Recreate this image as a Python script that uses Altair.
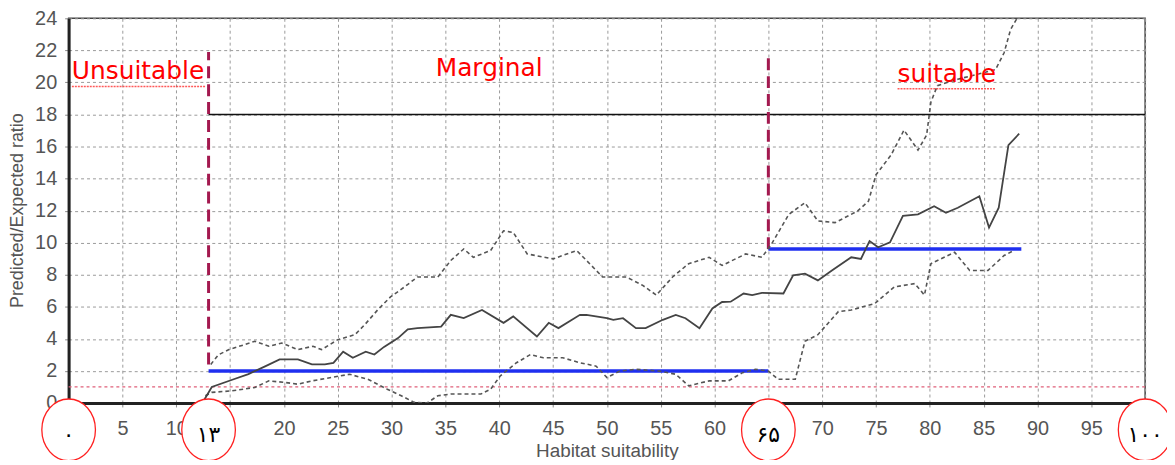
import altair as alt
import pandas as pd

# ---- data ----
mean_x = [12.6, 13.3, 15.2, 16.7, 18.3, 19.6, 21.3, 22.6, 23.8, 24.6, 25.5, 26.4, 27.6, 28.4, 29.3,
          30.6, 31.5, 32.4, 34.6, 35.5, 36.7, 38.4, 40.4, 41.3, 43.5, 44.6, 45.5, 47.5, 48.1, 50.0,
          50.6, 51.5, 52.7, 53.6, 55.2, 56.4, 57.3, 58.6, 59.8, 60.7, 61.5, 62.7, 63.5, 64.4, 66.4,
          67.3, 68.4, 69.6, 70.9, 72.7, 73.6, 74.4, 75.2, 76.3, 77.5, 78.9, 80.4, 81.5, 82.6, 84.6,
          85.5, 86.4, 87.3, 88.3]
mean_y = [0.2, 1.0, 1.45, 1.8, 2.3, 2.72, 2.72, 2.41, 2.41, 2.5, 3.2, 2.82, 3.2, 3.02, 3.5,
          4.05, 4.6, 4.67, 4.77, 5.5, 5.3, 5.8, 5.0, 5.4, 4.15, 5.0, 4.67, 5.5, 5.49, 5.29,
          5.19, 5.29, 4.67, 4.67, 5.19, 5.49, 5.29, 4.67, 5.9, 6.3, 6.32, 6.83, 6.73, 6.87, 6.83,
          7.96, 8.07, 7.65, 8.27, 9.09, 8.99, 10.1, 9.71, 10.02, 11.67, 11.77, 12.28, 11.87, 12.18, 12.9,
          10.94, 12.18, 16.09, 16.8]

upper_x = [13.2, 13.9, 14.9, 17.3, 18.6, 19.8, 21.3, 22.7, 23.5, 25.0, 26.6, 27.5, 28.7, 29.9,
           31.2, 32.4, 34.3, 35.5, 36.7, 37.6, 39.2, 40.4, 41.3, 42.6, 45.0, 47.2, 48.4, 49.6,
           51.8, 53.3, 54.6, 56.1, 57.6, 59.5, 60.7, 62.9, 64.4, 65.3, 66.9, 68.4, 69.6, 71.2,
           73.3, 74.3, 75.0, 76.4, 77.6, 78.9, 79.7, 80.1, 80.7, 82.6, 86.1, 86.9, 87.5, 88.1]
upper_y = [2.4, 3.0, 3.33, 3.85, 3.54, 3.74, 3.33, 3.54, 3.33, 3.95, 4.26, 4.88, 5.8, 6.62,
           7.24, 7.86, 7.86, 8.89, 9.61, 9.09, 9.51, 10.74, 10.64, 9.3, 8.99, 9.51, 8.69, 7.86,
           7.86, 7.35, 6.73, 7.86, 8.69, 9.09, 8.58, 9.3, 9.09, 9.92, 11.77, 12.49, 11.36, 11.25,
           11.98, 12.59, 14.24, 15.47, 17.02, 15.78, 16.71, 18.77, 19.8, 20.2, 20.8, 21.85, 23.3, 24.0]

lower_x = [12.7, 13.3, 15.2, 17.3, 18.6, 20.1, 21.3, 22.6, 24.4, 26.1, 27.8, 29.6, 30.9, 32.1,
           33.3, 34.3, 35.5, 38.3, 39.2, 40.1, 41.6, 42.9, 44.1, 45.9, 47.5, 49.0, 50.0, 51.2,
           52.7, 54.9, 56.4, 57.6, 59.5, 61.3, 62.6, 63.8, 65.0, 65.9, 67.5, 68.4, 69.6, 71.5,
           72.7, 74.9, 76.7, 78.6, 79.5, 80.1, 82.3, 83.7, 85.4, 86.9, 87.8]
lower_y = [0.45, 0.66, 0.76, 0.97, 1.38, 1.28, 1.17, 1.38, 1.59, 1.79, 1.48, 0.86, 0.45, 0.04,
           0.0, 0.45, 0.56, 0.56, 0.86, 1.69, 2.51, 3.02, 2.82, 2.82, 2.51, 2.3, 1.59, 1.99,
           2.1, 1.99, 1.79, 1.07, 1.38, 1.38, 1.89, 2.1, 1.99, 1.48, 1.48, 3.85, 4.26, 5.7,
           5.8, 6.21, 7.24, 7.45, 6.73, 8.69, 9.4, 8.27, 8.27, 9.2, 9.51]

# class thresholds (vertical dashed cut lines)
cut_x = [13, 65]
cut_top = [21.9, 21.8]
cut_bottom = [2.4, 9.6]

# class mean ratios (blue lines)
class_start = [13, 65]
class_end = [65, 88.5]
class_ratio = [2.0, 9.6]

# reference lines
ref_start = [13, 0]
ref_end = [100, 100]
ref_value = [18, 1]

# region labels
region_names = ["Unsuitable", "Marginal", "suitable"]
region_x = [0.3, 34.1, 77.0]
region_y = [20.2, 20.4, 20.05]
underline_start = [0.3, 77.0]
underline_end = [12.7, 86.1]
underline_y = [19.75, 19.6]

x_ticks = list(range(0, 101, 5))
y_ticks = list(range(0, 25, 2))
persian_x = [0, 13, 65, 100]
persian_labels = ["۰", "۱۳", "۶۵", "۱۰۰"]

# ---- tables ----
mean_df = pd.DataFrame({"x": mean_x, "y": mean_y})
upper_df = pd.DataFrame({"x": upper_x, "y": upper_y})
lower_df = pd.DataFrame({"x": lower_x, "y": lower_y})
cut_df = pd.DataFrame({"x": cut_x, "y": cut_bottom, "y2": cut_top})
class_df = pd.DataFrame({"x": class_start, "x2": class_end, "y": class_ratio})
black_df = pd.DataFrame({"x": ref_start[:1], "x2": ref_end[:1], "y": ref_value[:1]})
pink_df = pd.DataFrame({"x": ref_start[1:], "x2": ref_end[1:], "y": ref_value[1:]})
region_df = pd.DataFrame({"x": region_x, "y": region_y, "t": region_names})
under_df = pd.DataFrame({"x": underline_start, "x2": underline_end, "y": underline_y})
persian_df = pd.DataFrame({"x": persian_x, "t": persian_labels})

xs = alt.Scale(domain=[0, 100], nice=False, zero=False)
ys = alt.Scale(domain=[0, 24], nice=False)

x_axis = alt.Axis(
    values=x_ticks,
    labelExpr="(datum.value==0||datum.value==15||datum.value==65||datum.value==100)?'':datum.label",
    grid=True, gridDash=[3, 3], gridColor="#9a9a9a", gridWidth=1,
    domainColor="#222", domainWidth=3, tickColor="#888", tickSize=4,
    labelPadding=12, labelFont="Liberation Sans", labelFontSize=20, labelColor="#555",
    labelFlush=False, labelOverlap=False,
    title="Habitat suitability", titleFont="Liberation Sans", titleFontSize=19,
    titleFontWeight="normal", titleColor="#555", titleY=54, titleBaseline="alphabetic",
)
y_axis = alt.Axis(
    values=y_ticks,
    grid=True, gridDash=[3, 3], gridColor="#9a9a9a", gridWidth=1,
    domainColor="#222", domainWidth=3, tickColor="#888", tickSize=4,
    labelPadding=8, labelFont="Liberation Sans", labelFontSize=20, labelColor="#555",
    labelFlush=False, labelOverlap=False,
    title="Predicted/Expected ratio", titleFont="Liberation Sans", titleFontSize=18,
    titleFontWeight="normal", titleColor="#555", titleX=-51, titleY=193, titleAngle=270,
    titleAlign="center", titleBaseline="middle",
)

X = lambda: alt.X("x:Q", scale=xs, axis=x_axis)
Y = lambda: alt.Y("y:Q", scale=ys, axis=y_axis)

pink = alt.Chart(pink_df).mark_rule(color="#e0607a", strokeWidth=1.2, strokeDash=[3, 3]).encode(
    x=X(), x2="x2:Q", y=Y())
black = alt.Chart(black_df).mark_rule(color="#111", strokeWidth=1.5).encode(
    x=X(), x2="x2:Q", y=Y())
blue = alt.Chart(class_df).mark_rule(color="#1f2ff0", strokeWidth=3.5).encode(
    x=X(), x2="x2:Q", y=Y())
cuts = alt.Chart(cut_df).mark_rule(color="#a3194f", strokeWidth=3, strokeDash=[12, 6]).encode(
    x=X(), y=Y(), y2="y2:Q")

def curve(df, dash):
    kw = dict(color="#444", strokeWidth=1.8, clip=True)
    if dash:
        kw["strokeDash"] = [4, 3]
        kw["color"] = "#555"
        kw["strokeWidth"] = 1.6
    return alt.Chart(df).mark_line(**kw).encode(x=X(), y=Y())

mean_line = curve(mean_df, False)
upper_line = curve(upper_df, True)
lower_line = curve(lower_df, True)

regions = alt.Chart(region_df).mark_text(
    font="DejaVu Sans", fontSize=25, color="#ff0000", align="left", baseline="alphabetic"
).encode(x=X(), y=Y(), text="t:N")

underline = alt.Chart(under_df).mark_rule(color="#ff3030", strokeWidth=1.5, strokeDash=[2, 1], opacity=0.8).encode(
    x=X(), x2="x2:Q", y=Y())

ellipse_path = "M -0.87 0 A 0.87 1 0 1 1 0.87 0 A 0.87 1 0 1 1 -0.87 0 Z"
ellipses = alt.Chart(persian_df).mark_point(
    shape=ellipse_path, size=3844, filled=True, fill="white", stroke="#ff2020",
    strokeWidth=1.3, opacity=1, fillOpacity=1, strokeOpacity=1
).encode(x=X(), y=alt.value(414))

persian = alt.Chart(persian_df).mark_text(
    font="DejaVu Sans", fontSize=22, color="#000", baseline="middle", align="center"
).encode(x=X(), y=alt.value(419), text="t:N")

chart = alt.layer(
    pink, black, blue, cuts, lower_line, upper_line, mean_line, regions, underline, ellipses, persian
).properties(
    width=1083, height=387,
    autosize=alt.AutoSizeParams(type="none"),
    padding={"left": 61, "top": 9, "right": 22, "bottom": 56},
).configure_view(stroke="#444", strokeWidth=1.5)

chart.save("out.html", embed_options={"renderer": "svg", "actions": False})
